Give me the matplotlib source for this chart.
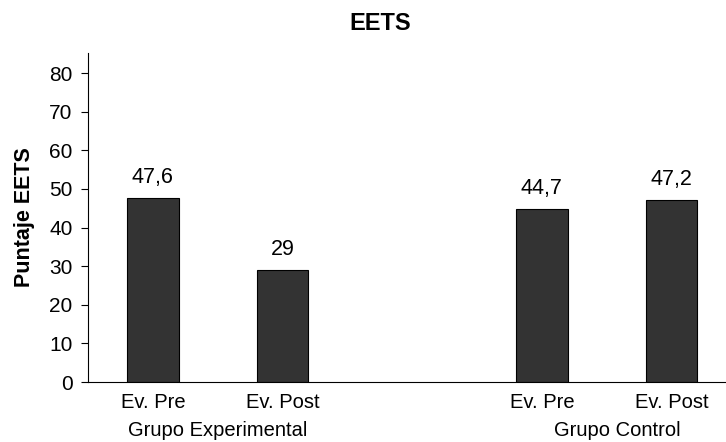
import matplotlib
matplotlib.use("Agg")
import matplotlib.pyplot as plt

plt.rcParams['font.family'] = ['Liberation Sans', 'DejaVu Sans']

# puntajes medios por evaluacion
cats = ['Ev. Pre', 'Ev. Post', 'Ev. Pre', 'Ev. Post']
vals = [47.6, 29, 44.7, 47.2]
val_labels = ['47,6', '29', '44,7', '47,2']
groups = ['Grupo Experimental', 'Grupo Control']

pos = [0, 1, 3, 4]
group_pos = [0.5, 3.58]

fig = plt.figure(figsize=(7.26, 4.42), dpi=100)
ax = fig.add_axes([88 / 726, 1 - 382 / 442, 1 - 88 / 726, (382 - 53) / 442])

ax.bar(pos, vals, width=0.4, color='#333333', edgecolor='black', linewidth=0.8)
for x, v, t in zip(pos, vals, val_labels):
    ax.text(x, v + 2.6, t, ha='center', va='bottom', fontsize=15.5)

ax.set_xlim(-0.5, 4.42)
ax.set_ylim(0, 85.2)
ax.set_yticks(range(0, 81, 10))
ax.set_xticks(pos)
ax.set_xticklabels(cats, fontsize=14.5)
ax.tick_params(axis='x', length=0, pad=8)
ax.tick_params(axis='y', labelsize=15, length=5, width=0.8, pad=6)

for x, g in zip(group_pos, groups):
    ax.text(x, -0.12, g, transform=ax.get_xaxis_transform(), ha='center',
            va='top', fontsize=14.5)

ax.spines['top'].set_visible(False)
ax.spines['right'].set_visible(False)
ax.spines['left'].set_linewidth(0.8)
ax.spines['bottom'].set_linewidth(0.8)

ax.set_ylabel('Puntaje EETS', fontsize=15.5, fontweight='bold', labelpad=10)
fig.text(380 / 726, 1 - 23 / 442, 'EETS', ha='center', va='center',
         fontsize=17, fontweight='bold')

fig.savefig('out.png', dpi=100)
